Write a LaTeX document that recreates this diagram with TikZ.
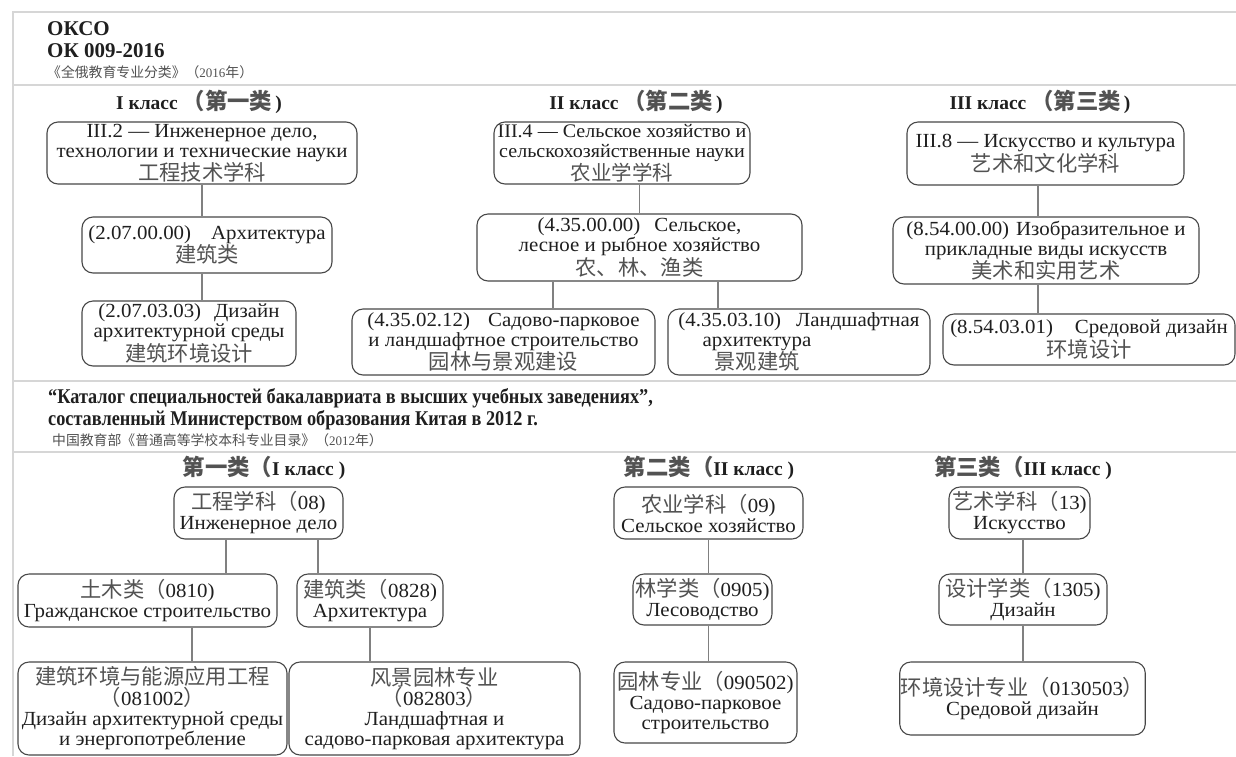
\documentclass[tikz,border=0pt]{standalone}
\usepackage{fontspec}
\setmainfont{Liberation Serif}
\newfontfamily\cjk[Scale=1.065]{Noto Sans CJK SC}
\newfontfamily\rusfont[FakeStretch=1.045]{Liberation Serif}
\newfontfamily\condserif[FakeStretch=0.87]{Liberation Serif}
\definecolor{ruc}{gray}{0.12}
\definecolor{zhc}{gray}{0.32}
\definecolor{boxc}{gray}{0.28}
\definecolor{linec}{gray}{0.50}
\definecolor{framec}{gray}{0.84}
\newcommand\zhtext[1]{{\cjk\color{zhc}#1}}
\newcommand\zhtitle[1]{{\cjk\fontsize{21}{21}\selectfont\color{zhc}#1}}
\tikzset{
  box/.style={draw=boxc, line width=1.1pt, rounded corners=11pt, inner sep=1pt,
    align=center, text=ruc, font=\rusfont\fontsize{20}{20}\selectfont},
  conn/.style={draw=linec, line width=1.2pt},
  frame/.style={draw=framec, line width=1.6pt},
  title/.style={font=\bfseries\fontsize{19.5}{20}\selectfont, text=ruc, inner sep=0pt},
  hdr/.style={font=\bfseries\fontsize{21}{22}\selectfont, text=ruc, inner sep=0pt},
  small/.style={font=\fontsize{13}{14}\selectfont, text=zhc, inner sep=0pt},
  cat/.style={anchor=base west, font=\condserif\bfseries\fontsize{21}{22}\selectfont, text=ruc, inner sep=0pt}
}
\begin{document}
\begin{tikzpicture}[x=1pt,y=-1pt]
\useasboundingbox[fill=white] (0,0) rectangle (1236,756);
% frame
\draw[frame] (13,756) -- (13,12) -- (1236,12);
\draw[frame] (13,85) -- (1236,85);
\draw[frame] (13,381) -- (1236,381);
\draw[frame] (13,452) -- (1236,452);
% top header
\node[hdr, anchor=base west] (okso) at (47,35) {ОКСО};
\node[hdr, anchor=base west] (ok) at (47,57) {ОК 009-2016};
\node[small, anchor=base west] (rucat) at (47,77) {\zhtext{《全俄教育专业分类》（}2016\zhtext{年）}};
% top titles
\node[title] (t1) at (199,102) {I класс \zhtitle{（第一类}\,)};
\node[title] (t2) at (636,102) {II класс \zhtitle{（第二类}\,)};
\node[title] (t3) at (1040,102) {III класс \zhtitle{（第三类}\,)};
% column 1
\node[box, minimum width=310, minimum height=62] (A1) at (202,153) {III.2 — Инженерное дело,\\технологии и технические науки\\\zhtext{工程技术学科}};
\node[box, minimum width=250, minimum height=56] (A2) at (207,245) {(2.07.00.00)\hspace{20pt}Архитектура\\\zhtext{建筑类}};
\node[box, minimum width=214, minimum height=65] (A3) at (189,333.5) {(2.07.03.03)\hspace{13pt}Дизайн\\архитектурной среды\\\zhtext{建筑环境设计}};
% column 2
\node[box, minimum width=256, minimum height=62, font=\rusfont\fontsize{19.2}{20}\selectfont] (B1) at (622,153) {III.4 — Сельское хозяйство и\\сельскохозяйственные науки\\\zhtext{农业学学科}};
\node[box, minimum width=325, minimum height=67] (B2) at (639.5,247.5) {(4.35.00.00)\hspace{14pt}Сельское,\\лесное и рыбное хозяйство\\\zhtext{农、林、渔类}};
\node[box, minimum width=303, minimum height=66] (B3) at (503.5,342) {(4.35.02.12)\hspace{18pt}Садово-парковое\\и ландшафтное строительство\\\zhtext{园林与景观建设}};
\node[box, minimum width=262, minimum height=66] (B4) at (799,342) {(4.35.03.10)\hspace{15pt}Ландшафтная\\архитектура\rule{84pt}{0pt}\\\zhtext{景观建筑}\rule{84pt}{0pt}};
% column 3
\node[box, minimum width=277, minimum height=63] (C1) at (1045.5,153.5) {III.8 — Искусство и культура\\\zhtext{艺术和文化学科}};
\node[box, minimum width=306, minimum height=67] (C2) at (1046,250.5) {(8.54.00.00)\hspace{7pt}Изобразительное и\\прикладные виды искусств\\\zhtext{美术和实用艺术}};
\node[box, minimum width=292, minimum height=51] (C3) at (1089,339.5) {(8.54.03.01)\hspace{22pt}Средовой дизайн\\\zhtext{环境设计}};
% top connectors
\draw[conn] (A1.south) -- (A1.south |- A2.north);
\draw[conn] (A2.south -| A1.south) -- (A3.north -| A1.south);
\draw[conn] (B2.north) -- (B2.north |- B1.south);
\draw[conn] ([xshift=49.5pt]B3.north) -- ([xshift=49.5pt]B3.north |- B2.south);
\draw[conn] ([xshift=-81pt]B4.north) -- ([xshift=-81pt]B4.north |- B2.south);
\draw[conn] ([xshift=-8pt]C2.north) -- ([xshift=-8pt]C2.north |- C1.south);
\draw[conn] ([xshift=-8pt]C2.south) -- ([xshift=-8pt]C2.south |- C3.north);
% middle header
\node[cat] (cat1) at (48,403) {“Каталог специальностей бакалавриата в высших учебных заведениях”,};
\node[cat] (cat2) at (48,425) {составленный Министерством образования Китая в 2012 г.};
\node[small, anchor=base west] (zhcat) at (52,445) {\zhtext{中国教育部《普通高等学校本科专业目录》（}2012\zhtext{年）}};
% bottom titles
\node[title] (u1) at (264,468) {\zhtitle{第一类（}I класс )};
\node[title] (u2) at (709,468) {\zhtitle{第二类（}II класс )};
\node[title] (u3) at (1023,468) {\zhtitle{第三类（}III класс )};
% bottom column 1
\node[box, minimum width=169, minimum height=52] (D1) at (258.5,513) {\zhtext{工程学科（}08)\\Инженерное дело};
\node[box, minimum width=259, minimum height=53] (D2) at (147.5,600.5) {\zhtext{土木类（}0810)\\Гражданское строительство};
\node[box, minimum width=146, minimum height=53] (D3) at (370,600.5) {\zhtext{建筑类（}0828)\\Архитектура};
\node[box, minimum width=269, minimum height=93] (D4) at (152.5,708.5) {\zhtext{建筑环境与能源应用工程}\\\zhtext{（}081002\zhtext{）}\\Дизайн архитектурной среды\\и энергопотребление};
\node[box, minimum width=291, minimum height=93] (D5) at (434.5,708.5) {\zhtext{风景园林专业}\\\zhtext{（}082803\zhtext{）}\\Ландшафтная и\\садово-парковая архитектура};
% bottom column 2
\node[box, minimum width=189, minimum height=52] (E1) at (708.5,513) {\zhtext{农业学科（}09)\\Сельское хозяйство};
\node[box, minimum width=139, minimum height=51] (E2) at (702.5,599.5) {\zhtext{林学类（}0905)\\Лесоводство};
\node[box, minimum width=183, minimum height=81] (E3) at (705.5,702.5) {\zhtext{园林专业（}090502)\\Садово-парковое\\строительство};
% bottom column 3
\node[box, minimum width=141, minimum height=52] (F1) at (1019.5,513) {\zhtext{艺术学科（}13)\\Искусство};
\node[box, minimum width=168, minimum height=51] (F2) at (1023,599.5) {\zhtext{设计学类（}1305)\\Дизайн};
\node[box, minimum width=239, minimum height=73] (F3) at (1022.5,698.5) {\zhtext{环境设计专业（}0130503\zhtext{）}\\Средовой дизайн};
% bottom connectors
\draw[conn] ([xshift=-32.5pt]D1.south) -- ([xshift=-32.5pt]D1.south |- D2.north);
\draw[conn] ([xshift=59.5pt]D1.south) -- ([xshift=59.5pt]D1.south |- D3.north);
\draw[conn] ([xshift=44.5pt]D2.south) -- ([xshift=44.5pt]D2.south |- D4.north);
\draw[conn] (D3.south) -- (D3.south |- D5.north);
\draw[conn] (E1.south) -- (E1.south |- E2.north);
\draw[conn] (E1.south |- E2.south) -- (E1.south |- E3.north);
\draw[conn] (F2.north) -- (F2.north |- F1.south);
\draw[conn] (F2.south) -- (F2.south |- F3.north);
\end{tikzpicture}
\end{document}
